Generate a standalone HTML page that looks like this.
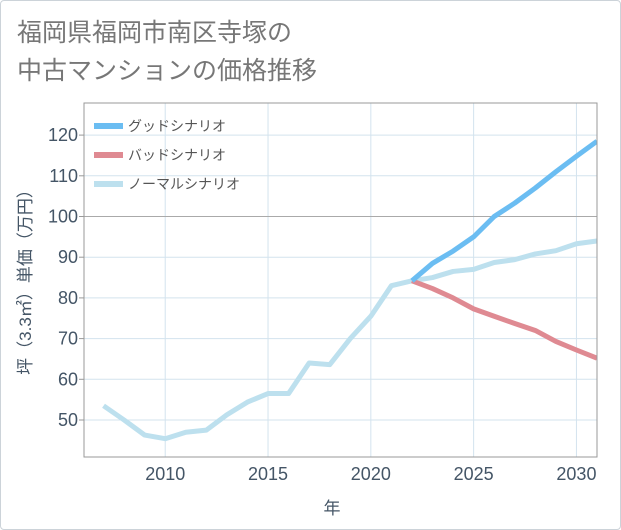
<!DOCTYPE html>
<html><head><meta charset="utf-8"><style>
body{margin:0;background:#fff;font-family:"Liberation Sans","Noto Sans CJK JP",sans-serif;}
#card{position:absolute;left:0;top:0;width:619px;height:528px;border:1px solid #ccd3d9;border-radius:4px;background:#fff;}
</style></head><body>
<div id="card"></div>
<svg width="621" height="530" style="position:absolute;left:0;top:0">
<text x="17" y="41" font-size="25" fill="#777" font-family="Liberation Sans,Noto Sans CJK JP,sans-serif">福岡県福岡市南区寺塚の</text>
<text x="17" y="79" font-size="25" fill="#777" font-family="Liberation Sans,Noto Sans CJK JP,sans-serif">中古マンションの価格推移</text>
<g id="grid"></g>
<g id="series"></g>
<rect x="84" y="103" width="513" height="354" fill="none" stroke="#999"/>
<g id="axes"></g>
<text x="332" y="514" font-size="17" fill="#445566" text-anchor="middle" font-family="Liberation Sans,Noto Sans CJK JP,sans-serif">年</text>
<text transform="translate(31,278) rotate(-90)" font-size="17" fill="#445566" text-anchor="middle" font-family="Liberation Sans,Noto Sans CJK JP,sans-serif">坪（3.3㎡）単価（万円）</text>
<g id="legend"></g>
</svg>
<script>
const years=[2007,2008,2009,2010,2011,2012,2013,2014,2015,2016,2017,2018,2019,2020,2021,2022,2023,2024,2025,2026,2027,2028,2029,2030,2031];
const normalVals=[53.5,50,46.3,45.4,47,47.5,51.3,54.4,56.5,56.5,64,63.6,70,75.5,83,84.2,85,86.5,87,88.7,89.4,90.8,91.6,93.3,94];
const futureYears=[2022,2023,2024,2025,2026,2027,2028,2029,2030,2031];
const goodVals=[84.2,88.5,91.5,95,100,103.3,107,111,114.8,118.5];
const badVals=[84.2,82.3,80,77.3,75.5,73.7,72,69.3,67.2,65.2];
const xTicks=[2010,2015,2020,2025,2030];
const yTicks=[50,60,70,80,90,100,110,120];
const NS='http://www.w3.org/2000/svg';
const X=y=>84+(y-2006.05)*(513/24.95);
const Y=v=>420-(v-50)*4.07;
function mk(t,a,p){const e=document.createElementNS(NS,t);for(const k in a)e.setAttribute(k,a[k]);p.appendChild(e);return e;}
const grid=document.getElementById('grid'),axes=document.getElementById('axes'),ser=document.getElementById('series'),leg=document.getElementById('legend');
xTicks.forEach(t=>{const l=mk('line',{x1:X(t),x2:X(t),y1:103,y2:457,stroke:'#d3e3ee'},grid);


const tx=mk('text',{x:X(t),y:480,'font-size':18,fill:'#445566','text-anchor':'middle'},axes);tx.textContent=t;

});
yTicks.forEach(t=>{const l=mk('line',{x1:84,x2:597,y1:Y(t),y2:Y(t),stroke:t===100?'#aaa':'#d3e3ee'},grid);


mk('line',{x1:79,x2:84,y1:Y(t),y2:Y(t),stroke:'#999'},axes);
const tx=mk('text',{x:78,y:Y(t)+6,'font-size':18,fill:'#445566','text-anchor':'end'},axes);tx.textContent=t;

});
function line(xs,vs,col,name){const p=mk('polyline',{points:xs.map((x,i)=>X(x)+','+Y(vs[i])).join(' '),fill:'none',stroke:col,'stroke-width':5,'stroke-linejoin':'round'},ser);

}
const cp=mk('clipPath',{id:'c'},ser);mk('rect',{x:84,y:103,width:513,height:354},cp);ser.setAttribute('clip-path','url(#c)');
line(years,normalVals,'#bde0ee','normal-scenario-line');
line(futureYears,badVals,'#df8a92','bad-scenario-line');
line(futureYears,goodVals,'#6bbdf2','good-scenario-line');
[['グッドシナリオ','#6bbdf2'],['バッドシナリオ','#df8a92'],['ノーマルシナリオ','#bde0ee']].forEach((d,i)=>{const y=126+i*29;
const g=mk('g',{},leg);


mk('line',{x1:94,x2:123,y1:y,y2:y,stroke:d[1],'stroke-width':6},g);
const t=mk('text',{x:128,y:y+5,'font-size':14,fill:'#555'},g);t.textContent=d[0];});
</script>
</body></html>
